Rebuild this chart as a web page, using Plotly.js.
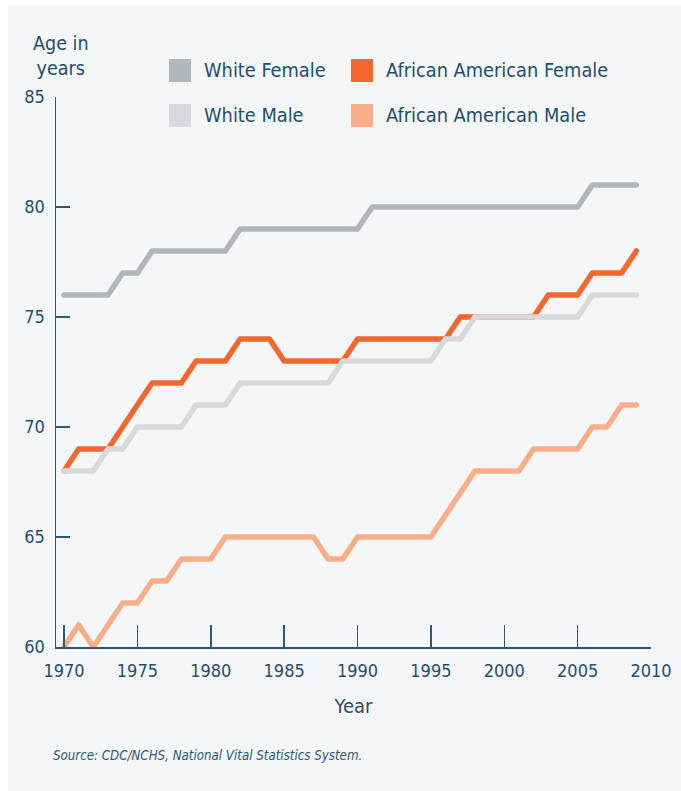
<!DOCTYPE html>
<html>
<head>
<meta charset="utf-8">
<script src="https://cdn.plot.ly/plotly-3.0.1.min.js"></script>
<style>
  html, body { margin: 0; padding: 0; background: #ffffff; }
  #chart { width: 681px; height: 791px; }
</style>
</head>
<body>
<div id="chart"></div>
<script>
// ---- Data ----
const years = [1970,1971,1972,1973,1974,1975,1976,1977,1978,1979,
               1980,1981,1982,1983,1984,1985,1986,1987,1988,1989,
               1990,1991,1992,1993,1994,1995,1996,1997,1998,1999,
               2000,2001,2002,2003,2004,2005,2006,2007,2008,2009];

const whiteFemale = [76,76,76,76,77,77,78,78,78,78,
                     78,78,79,79,79,79,79,79,79,79,
                     79,80,80,80,80,80,80,80,80,80,
                     80,80,80,80,80,80,81,81,81,81];

const africanAmericanFemale = [68,69,69,69,70,71,72,72,72,73,
                               73,73,74,74,74,73,73,73,73,73,
                               74,74,74,74,74,74,74,75,75,75,
                               75,75,75,76,76,76,77,77,77,78];

const whiteMale = [68,68,68,69,69,70,70,70,70,71,
                   71,71,72,72,72,72,72,72,72,73,
                   73,73,73,73,73,73,74,74,75,75,
                   75,75,75,75,75,75,76,76,76,76];

const africanAmericanMale = [60,61,60,61,62,62,63,63,64,64,
                             64,65,65,65,65,65,65,65,64,64,
                             65,65,65,65,65,65,66,67,68,68,
                             68,68,69,69,69,69,70,70,71,71];

const seriesNames = ["White Female", "African American Female", "White Male", "African American Male"];
const xTickVals = [1970, 1975, 1980, 1985, 1990, 1995, 2000, 2005, 2010];
const yTickVals = [60, 65, 70, 75, 80, 85];
const yAxisTitle = "Age in<br>years";
const xAxisTitle = "Year";
const sourceNote = "Source: CDC/NCHS, National Vital Statistics System.";

// ---- Styling ----
const colors = {
  "White Female": "#b1b6bb",
  "African American Female": "#f4672f",
  "White Male": "#d7d9dd",
  "African American Male": "#f9ae88"
};
const textColor = "#1d4f6e";
const axisColor = "#2b5a78";
const FONT = "'DejaVu Sans Condensed', 'DejaVu Sans', sans-serif";

const W = 681, H = 791;
const M = { l: 56, r: 30, t: 97, b: 144 };
const plotW = W - M.l - M.r, plotH = H - M.t - M.b;
const px = x => (x - M.l) / plotW;          // pixel -> paper x
const py = y => (H - M.b - y) / plotH;      // pixel -> paper y

function lineTrace(name, ys) {
  return {
    type: "scatter", mode: "lines", name: name,
    x: years, y: ys,
    line: { color: colors[name], width: 5.5 },
    showlegend: false, hoverinfo: "x+y+name"
  };
}

const data = [
  lineTrace("White Female", whiteFemale),
  lineTrace("African American Male", africanAmericanMale),
  lineTrace("African American Female", africanAmericanFemale),
  lineTrace("White Male", whiteMale)
];

// Legend (2 x 2) drawn as swatches + labels
const legendItems = [
  { name: seriesNames[0], sx: 169, sy: 59, tx: 202, ty: 70 },
  { name: seriesNames[1], sx: 351, sy: 59, tx: 384, ty: 70 },
  { name: seriesNames[2], sx: 169, sy: 104, tx: 202, ty: 115 },
  { name: seriesNames[3], sx: 351, sy: 104, tx: 384, ty: 115 }
];

const shapes = [
  { type: "rect", xref: "paper", yref: "paper", layer: "below",
    x0: px(8), x1: px(W + 2), y0: py(6), y1: py(H + 2),
    fillcolor: "#f5f6f8", line: { width: 0 } }
];
const annotations = [];
legendItems.forEach(it => {
  shapes.push({ type: "rect", xref: "paper", yref: "paper",
    x0: px(it.sx), x1: px(it.sx + 22), y0: py(it.sy), y1: py(it.sy + 23),
    fillcolor: colors[it.name], line: { width: 0 } });
  annotations.push({ xref: "paper", yref: "paper", x: px(it.tx), y: py(it.ty),
    xanchor: "left", yanchor: "middle", showarrow: false, text: it.name,
    font: { family: FONT, size: 19.8, color: textColor } });
});

annotations.push({ xref: "paper", yref: "paper", x: px(61), y: py(56),
  xanchor: "center", yanchor: "middle", showarrow: false, text: yAxisTitle,
  font: { family: FONT, size: 19.5, color: textColor } });

annotations.push({ xref: "paper", yref: "paper", x: px(51), y: py(755),
  xanchor: "left", yanchor: "middle", showarrow: false,
  text: "<i>" + sourceNote + "</i>",
  font: { family: FONT, size: 13.2, color: "#2c5a7a" } });

const layout = {
  width: W, height: H,
  margin: M,
  paper_bgcolor: "#ffffff",
  plot_bgcolor: "rgba(0,0,0,0)",
  font: { family: FONT, size: 18, color: textColor },
  showlegend: false,
  xaxis: {
    range: [1970 - 8 / 14.68, 2010],
    tickvals: xTickVals,
    ticks: "inside", ticklen: 22, tickwidth: 1.5, tickcolor: axisColor,
    showline: true, linecolor: axisColor, linewidth: 1.5,
    showgrid: false, zeroline: false,
    tickfont: { family: FONT, size: 18, color: textColor },
    ticklabelstandoff: 7,
    title: { text: xAxisTitle, standoff: 19, font: { family: FONT, size: 20, color: textColor } }
  },
  yaxis: {
    range: [60, 85],
    tickvals: yTickVals,
    ticks: "inside", ticklen: 14, tickwidth: 1.5, tickcolor: axisColor,
    showline: true, linecolor: axisColor, linewidth: 1.5,
    showgrid: false, zeroline: false,
    tickfont: { family: FONT, size: 18, color: textColor },
    ticklabelstandoff: 6
  },
  shapes: shapes,
  annotations: annotations
};

Plotly.newPlot("chart", data, layout, { displayModeBar: false, staticPlot: true }).then(() => {
  document.querySelectorAll(".scatterlayer .js-line").forEach(p => {
    p.style.strokeLinecap = "round";
    p.style.strokeLinejoin = "round";
  });
});
</script>
</body>
</html>
